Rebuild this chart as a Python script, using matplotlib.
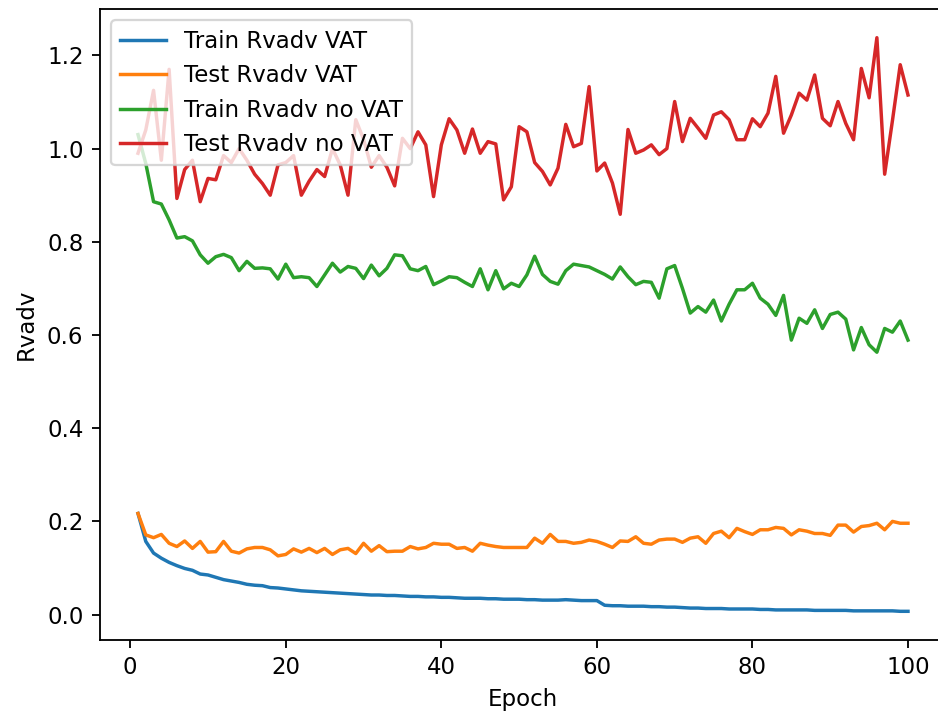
import numpy as np
import matplotlib
matplotlib.use("Agg")
import matplotlib.pyplot as plt

epochs = np.arange(1, 101)

train_vat = [
    0.217, 0.157, 0.132, 0.121, 0.112, 0.105, 0.099, 0.095, 0.087, 0.085,
    0.080, 0.075, 0.072, 0.069, 0.065, 0.063, 0.062, 0.058, 0.057, 0.055,
    0.053, 0.051, 0.050, 0.049, 0.048, 0.047, 0.046, 0.045, 0.044, 0.043,
    0.042, 0.042, 0.041, 0.041, 0.040, 0.039, 0.039, 0.038, 0.038, 0.037,
    0.037, 0.036, 0.035, 0.035, 0.035, 0.034, 0.034, 0.033, 0.033, 0.033,
    0.032, 0.032, 0.031, 0.031, 0.031, 0.032, 0.031, 0.030, 0.030, 0.030,
    0.020, 0.019, 0.019, 0.018, 0.018, 0.018, 0.017, 0.017, 0.016, 0.016,
    0.015, 0.014, 0.014, 0.013, 0.013, 0.013, 0.012, 0.012, 0.012, 0.012,
    0.011, 0.011, 0.010, 0.010, 0.010, 0.010, 0.010, 0.009, 0.009, 0.009,
    0.009, 0.009, 0.008, 0.008, 0.008, 0.008, 0.008, 0.008, 0.007, 0.007,
]

test_vat = [
    0.217, 0.171, 0.165, 0.172, 0.153, 0.146, 0.158, 0.142, 0.157, 0.134,
    0.135, 0.157, 0.136, 0.132, 0.141, 0.144, 0.144, 0.139, 0.126, 0.129,
    0.141, 0.134, 0.142, 0.133, 0.142, 0.129, 0.139, 0.142, 0.131, 0.153,
    0.136, 0.148, 0.135, 0.136, 0.136, 0.146, 0.141, 0.144, 0.153, 0.151,
    0.151, 0.142, 0.144, 0.136, 0.153, 0.149, 0.146, 0.144, 0.144, 0.144,
    0.144, 0.164, 0.153, 0.172, 0.157, 0.157, 0.153, 0.155, 0.160, 0.157,
    0.151, 0.144, 0.158, 0.157, 0.167, 0.153, 0.151, 0.160, 0.162, 0.162,
    0.155, 0.164, 0.167, 0.153, 0.174, 0.179, 0.165, 0.185, 0.178, 0.172,
    0.182, 0.182, 0.187, 0.185, 0.171, 0.182, 0.179, 0.174, 0.174, 0.170,
    0.192, 0.192, 0.177, 0.189, 0.191, 0.196, 0.182, 0.200, 0.196, 0.196,
]

train_novat = [
    1.030, 0.968, 0.886, 0.881, 0.847, 0.808, 0.811, 0.802, 0.772, 0.754,
    0.768, 0.773, 0.766, 0.738, 0.758, 0.743, 0.744, 0.742, 0.720, 0.752,
    0.723, 0.725, 0.723, 0.704, 0.729, 0.754, 0.735, 0.747, 0.743, 0.721,
    0.750, 0.727, 0.743, 0.772, 0.770, 0.742, 0.738, 0.747, 0.708, 0.716,
    0.725, 0.723, 0.713, 0.704, 0.742, 0.697, 0.738, 0.699, 0.711, 0.704,
    0.729, 0.769, 0.730, 0.715, 0.709, 0.738, 0.752, 0.749, 0.746, 0.738,
    0.730, 0.720, 0.746, 0.725, 0.708, 0.715, 0.713, 0.679, 0.742, 0.749,
    0.700, 0.647, 0.661, 0.649, 0.675, 0.630, 0.666, 0.697, 0.697, 0.711,
    0.679, 0.666, 0.642, 0.685, 0.589, 0.636, 0.625, 0.654, 0.614, 0.644,
    0.649, 0.634, 0.568, 0.616, 0.579, 0.563, 0.614, 0.606, 0.630, 0.589,
]

test_novat = [
    0.990, 1.040, 1.125, 0.975, 1.170, 0.893, 0.955, 0.975, 0.886, 0.936,
    0.933, 0.985, 0.970, 1.000, 0.975, 0.945, 0.925, 0.900, 0.965, 0.970,
    0.985, 0.900, 0.930, 0.955, 0.940, 1.000, 0.965, 0.900, 1.062, 1.020,
    0.960, 0.985, 0.960, 0.920, 1.022, 1.000, 1.036, 1.008, 0.897, 1.008,
    1.064, 1.040, 0.990, 1.042, 0.990, 1.015, 1.010, 0.890, 0.918, 1.047,
    1.036, 0.970, 0.951, 0.922, 0.958, 1.052, 1.004, 1.011, 1.133, 0.952,
    0.969, 0.926, 0.859, 1.041, 0.990, 0.997, 1.008, 0.987, 1.000, 1.101,
    1.015, 1.065, 1.044, 1.022, 1.072, 1.079, 1.062, 1.019, 1.019, 1.064,
    1.047, 1.076, 1.155, 1.033, 1.072, 1.119, 1.104, 1.158, 1.065, 1.049,
    1.101, 1.054, 1.019, 1.172, 1.109, 1.238, 0.945, 1.060, 1.180, 1.115,
]

dpi = 165
fig = plt.figure(figsize=(938 / dpi, 715 / dpi), dpi=dpi)
ax = fig.add_axes([99.5 / 938, 75 / 715, 847 / 938, 631 / 715])

ax.plot(epochs, train_vat, label="Train Rvadv VAT")
ax.plot(epochs, test_vat, label="Test Rvadv VAT")
ax.plot(epochs, train_novat, label="Train Rvadv no VAT")
ax.plot(epochs, test_novat, label="Test Rvadv no VAT")

ax.set_xlabel("Epoch")
ax.set_ylabel("Rvadv")
ax.legend(loc="upper left")

fig.savefig("out.png", dpi=dpi)
